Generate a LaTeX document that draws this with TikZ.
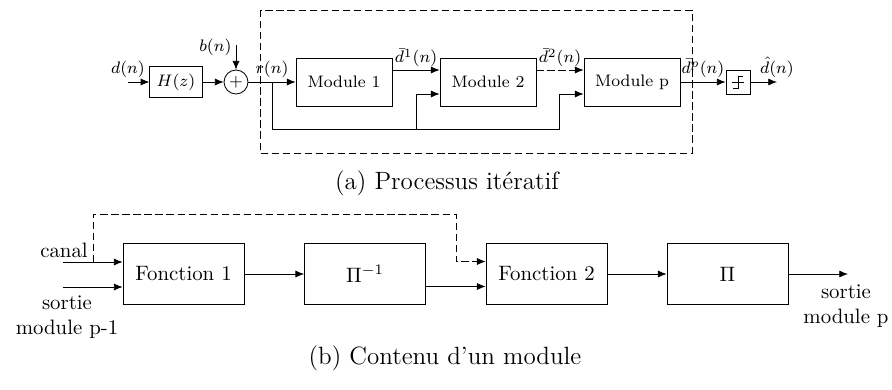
\documentclass[tikz,border=0pt]{standalone}
\usepackage{fontspec}
\usetikzlibrary{arrows.meta}

\begin{document}
\begin{tikzpicture}[x=0.48pt,y=-0.48pt,
		>={Latex[length=4.2pt,width=3.4pt]},
		module/.style={draw, minimum width=46pt, minimum height=23pt, font=\footnotesize},
		fonction/.style={draw, minimum width=58pt, minimum height=29pt},
		sigtext/.style={font=\footnotesize, inner sep=2pt},
		dashline/.style={dash pattern=on 3.5pt off 1.8pt}]
		\useasboundingbox (0,0) rectangle (892,390);

		% input and channel
		\coordinate (din) at (128,82);
		\node[draw, minimum width=23pt, minimum height=13.4pt, font=\footnotesize] (hz) at (176,82) {$H(z)$};
		\node[draw, circle, minimum size=11.5pt, inner sep=0pt, font=\footnotesize] (sum) at (236,82) {$+$};
		\coordinate (bin) at (236,45);
		\draw[->] (din) node[above, sigtext] (dlabel) {$d(n)$} -- (hz);
		\draw[->] (hz) -- (sum);
		\draw[->] (bin) node[left, sigtext, yshift=-1pt] (blabel) {$b(n)$} -- (sum);

		% modules
		\node[module] (module1) at (344,82) {Module 1};
		\node[module] (module2) at (488,82) {Module 2};
		\node[module] (modulep) at (632,82) {Module p};
		\draw[->] (sum) -- (module1);
		\coordinate (split) at (272,82);
		\node[above, sigtext] (rlabel) at (split) {$r(n)$};
		\coordinate (bus2) at (416,129);
		\coordinate (bus3) at (559,129);
		\draw[->] (split) |- (bus2) |- ([yshift=-5.76pt]module2.west);
		\draw[->] (bus2) -- (bus3) |- ([yshift=-5.76pt]modulep.west);
		\draw[->] ([yshift=5.76pt]module1.east) -- ([yshift=5.76pt]module2.west)
		node[midway, above=-0.8pt, sigtext] (d1label) {$\bar{d}^1(n)$};
		\draw[dashline, ->] ([yshift=5.76pt]module2.east) -- ([yshift=5.76pt]modulep.west)
		node[midway, above=-0.8pt, sigtext] (d2label) {$\bar{d}^2(n)$};

		% decision
		\node[draw, minimum size=11.5pt, inner sep=0pt] (sign) at (738,82) {};
		\draw (732,82) -- (744,82);
		\draw (733,88) -- (738,88) -- (738,76) -- (743,76);
		\draw[->] (modulep) -- (sign)
		node[midway, above, sigtext] (dplabel) {$\bar{d}^p(n)$};
		\coordinate (dout) at (777,82);
		\draw[->] (sign) -- (dout) node[above, sigtext] (dhat) {$\hat{d}(n)$};

		% dashed frame
		\draw[dashline] (260,10) rectangle (692,153);
		\node[font=\large] (capa) at (447,183) {(a) Processus itératif};

		% module contents
		\node[fonction] (fonction1) at (183.5,274) {Fonction 1};
		\node[fonction] (piinv) at (365,274) {$\Pi^{-1}$};
		\node[fonction] (fonction2) at (546.5,274) {Fonction 2};
		\node[fonction] (pi) at (727.5,274) {$\Pi$};
		\coordinate (canalin) at (63,262);
		\coordinate (previn) at (63,287);
		\coordinate (tap) at (93,262);
		\coordinate (turn) at (456,214);
		\node (canal) at (64,250) {canal};
		\node[align=center] (sortieprev) at (67,317) {sortie\\module p-1};
		\draw[->] (canalin) -- (canalin -| fonction1.west);
		\draw[->] (previn) -- (previn -| fonction1.west);
		\draw[->] (fonction1) -- (piinv);
		\draw[->] ([yshift=-6pt]piinv.east) -- ([yshift=-6pt]fonction2.west);
		\draw[dashline, ->] (tap) |- (turn) |- ([yshift=6pt]fonction2.west);
		\draw[->] (fonction2) -- (pi);
		\coordinate (sout) at (848,274);
		\draw[->] (pi) -- (sout);
		\node[align=center] (sortiep) at (846,306) {sortie\\module p};
		\node[font=\large] (capb) at (445,358) {(b) Contenu d'un module};
\end{tikzpicture}
\end{document}
